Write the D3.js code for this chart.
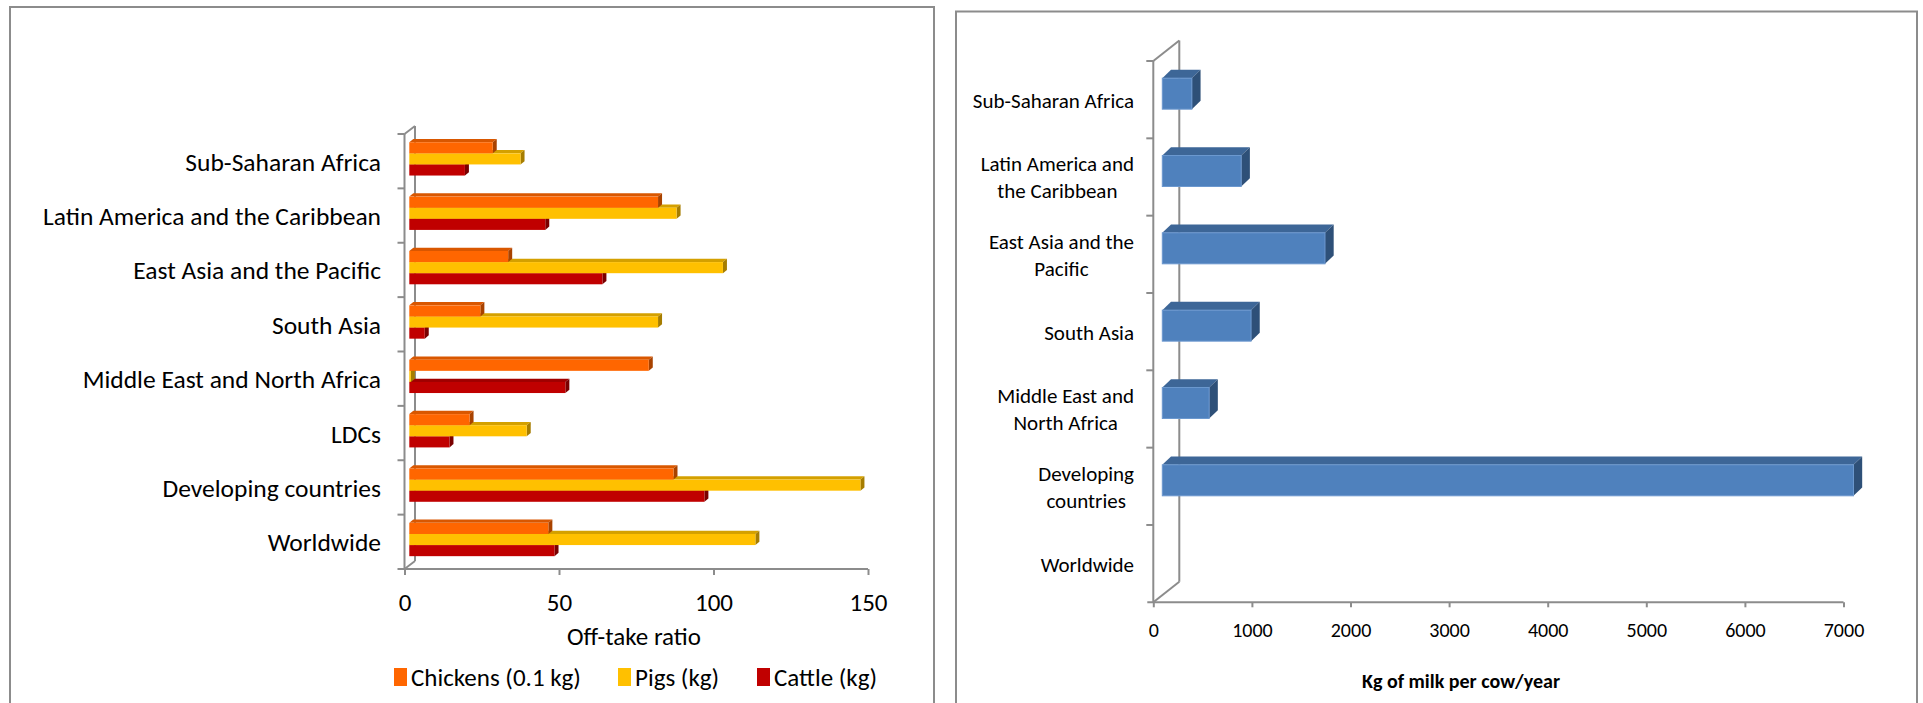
<!DOCTYPE html>
<html><head><meta charset="utf-8">
<script src="https://cdn.jsdelivr.net/npm/d3@7"></script>
<style>
body{margin:0;background:#fff;}
svg{display:block;}
text{font-family:Carlito,Calibri,Lato,sans-serif;fill:#000;}
</style>
</head><body>
<svg id="c" width="1923" height="703"></svg>
<script>
// ---------- data: left chart (off-take ratio) ----------
const meatCategories = ["Sub-Saharan Africa","Latin America and the Caribbean","East Asia and the Pacific","South Asia","Middle East and North Africa","LDCs","Developing countries","Worldwide"];
const meatSeries = ["Chickens (0.1 kg)","Pigs (kg)","Cattle (kg)"];
const chickens = [27, 80.5, 32, 23, 77.5, 19.5, 85.5, 45];
const pigs     = [36, 86.5, 101.5, 80.5, 0.5, 38, 146, 112];
const cattle   = [18, 44, 62.5, 5, 50.5, 13, 95.5, 47];
const meatTicks = [0, 50, 100, 150];
const meatAxisTitle = "Off-take ratio";

// ---------- data: right chart (milk yield) ----------
const milkCategories = [["Sub-Saharan Africa"],["Latin America and","the Caribbean"],["East Asia and the","Pacific"],["South Asia"],["Middle East and","North Africa"],["Developing","countries"],["Worldwide"]];
const milkValues = [300, 800, 1650, 900, 475, 7010, null];
const milkTicks = [0, 1000, 2000, 3000, 4000, 5000, 6000, 7000];
const milkAxisTitle = "Kg of milk per cow/year";

const svg = d3.select("#c");
const AX = "#8c8c8c";

// panel frames
svg.append("rect").attr("x",10).attr("y",7).attr("width",924).attr("height",740)
  .attr("fill","none").attr("stroke",AX).attr("stroke-width",2);
svg.append("rect").attr("x",956).attr("y",11.5).attr("width",961).attr("height",740)
  .attr("fill","none").attr("stroke",AX).attr("stroke-width",2);

function bar3d(g, x0, x1, y, h, dx, dy, c){
  g.append("polygon").attr("points",[[x0,y],[x1,y],[x1+dx,y+dy],[x0+dx,y+dy]].map(p=>p.join(",")).join(" "))
    .attr("fill",c.top);
  g.append("polygon").attr("points",[[x1,y],[x1+dx,y+dy],[x1+dx,y+h+dy],[x1,y+h]].map(p=>p.join(",")).join(" "))
    .attr("fill",c.side);
  g.append("rect").attr("x",x0).attr("y",y).attr("width",Math.max(0,x1-x0)).attr("height",h)
    .attr("fill",c.front).attr("stroke",c.edge||"none").attr("stroke-width",c.edge?1:0);
}

function walls(g, xL, yTop, yBot, wdx, wdy, bandTicks){
  const ln = (x1,y1,x2,y2)=>g.append("line").attr("x1",x1).attr("y1",y1).attr("x2",x2).attr("y2",y2)
      .attr("stroke",AX).attr("stroke-width",2);
  ln(xL+wdx, yTop+wdy, xL+wdx, yBot+wdy);
  ln(xL, yTop, xL+wdx, yTop+wdy);
  ln(xL, yBot, xL+wdx, yBot+wdy);
  ln(xL, yTop, xL, yBot);
  bandTicks.forEach(t=>ln(xL-7, t, xL, t));
}

// ================= LEFT CHART =================
{
  const g = svg.append("g");
  const x = d3.scaleLinear().domain([0,150]).range([404.5, 868]);
  const y = d3.scaleBand().domain(meatCategories).range([134, 569]).paddingInner(0).paddingOuter(0);
  const wdx = 10.5, wdy = -8;
  const bt = meatCategories.map(c=>y(c));
  walls(g, x(0), 134, 569, wdx, wdy, bt);
  const xa = g.append("g").attr("transform","translate(0,569)")
    .call(d3.axisBottom(x).tickValues(meatTicks).tickFormat(d3.format("d")).tickSize(6).tickPadding(18).tickSizeOuter(0));
  xa.select(".domain").attr("stroke",AX).attr("stroke-width",2).attr("d",`M${x(0)-7},0H${x(150)}`);
  xa.selectAll(".tick line").attr("stroke",AX).attr("stroke-width",2);
  xa.selectAll(".tick text").attr("font-size",25).attr("font-family",null).attr("dy","0.71em").attr("fill","#000");
  g.append("text").attr("x",634).attr("y",636).attr("text-anchor","middle").attr("dominant-baseline","central")
    .attr("font-size",25).text(meatAxisTitle);

  g.selectAll("text.cat").data(meatCategories).join("text").attr("class","cat")
    .attr("x",381).attr("y",d=>y(d)+y.bandwidth()/2+1).attr("text-anchor","end")
    .attr("dominant-baseline","central").attr("font-size",25.5).text(d=>d);

  const colors = [
    {front:"#FF6600", top:"#D95700", side:"#A84200"},
    {front:"#FFC000", top:"#D4A000", side:"#A67D00"},
    {front:"#C00000", top:"#A00000", side:"#7A0000"}
  ];
  const series = [chickens, pigs, cattle];
  const bh = 11.1, offX = 4.8, dx = 4, dy = -3.3;
  meatCategories.forEach((c,i)=>{
    const gTop = y(c) + y.bandwidth()/2 - 1.5*bh - 2.3;
    for(let s=2; s>=0; s--){
      const v = series[s][i];
      bar3d(g, x(0)+offX, x(v)+offX, gTop + s*bh, bh, dx, dy, colors[s]);
    }
  });

  const lg = g.append("g");
  const lx = [394, 618, 757];
  meatSeries.forEach((s,i)=>{
    lg.append("rect").attr("x",lx[i]).attr("y",668).attr("width",13).attr("height",18).attr("fill",colors[i].front);
    lg.append("text").attr("x",lx[i]+17).attr("y",677).attr("dominant-baseline","central").attr("font-size",25).text(s);
  });
}

// ================= RIGHT CHART =================
{
  const g = svg.append("g");
  const x = d3.scaleLinear().domain([0,7000]).range([1153.3, 1843.5]);
  const y = d3.scaleBand().domain(milkCategories.map(d=>d.join(" "))).range([61, 602.3]);
  const wdx = 26, wdy = -20.5;
  const bt = y.domain().map(c=>y(c));
  walls(g, x(0), 61, 602.3, wdx, wdy, bt);
  const xa = g.append("g").attr("transform","translate(0,602.3)")
    .call(d3.axisBottom(x).tickValues(milkTicks).tickFormat(d3.format("d")).tickSize(5).tickPadding(16).tickSizeOuter(0));
  xa.select(".domain").attr("stroke",AX).attr("stroke-width",2).attr("d",`M${x(0)-6},0H${x(7000)}`);
  xa.selectAll(".tick line").attr("stroke",AX).attr("stroke-width",2);
  xa.selectAll(".tick text").attr("font-size",20).attr("font-family",null).attr("dy","0.71em").attr("fill","#000");
  g.append("text").attr("x",1461).attr("y",681).attr("text-anchor","middle").attr("dominant-baseline","central")
    .attr("font-size",20).attr("font-weight","bold").text(milkAxisTitle);

  milkCategories.forEach(lines=>{
    const key = lines.join(" ");
    const cy = y(key) + y.bandwidth()/2 + 1;
    const t = g.append("g");
    const lh = 27;
    const texts = lines.map((l,j)=>t.append("text").attr("y", cy + (j-(lines.length-1)/2)*lh)
      .attr("dominant-baseline","central").attr("font-size",21).text(l));
    const widths = texts.map(tt=>tt.node().getComputedTextLength());
    const wmax = d3.max(widths);
    const right = 1134;
    texts.forEach(tt=>tt.attr("x", right - wmax/2).attr("text-anchor","middle"));
  });

  const col = {front:"#4F81BD", top:"#3D6697", side:"#2E5078", edge:"#6C98CF"};
  const bh = 31, offX = 9, dx = 8.7, dy = -8.3;
  milkValues.forEach((v,i)=>{
    if(v==null) return;
    const key = y.domain()[i];
    const top = y(key) + y.bandwidth()/2 - bh/2 - 6;
    bar3d(g, x(0)+offX, x(v)+offX, top, bh, dx, dy, col);
  });
}
</script>
</body></html>
